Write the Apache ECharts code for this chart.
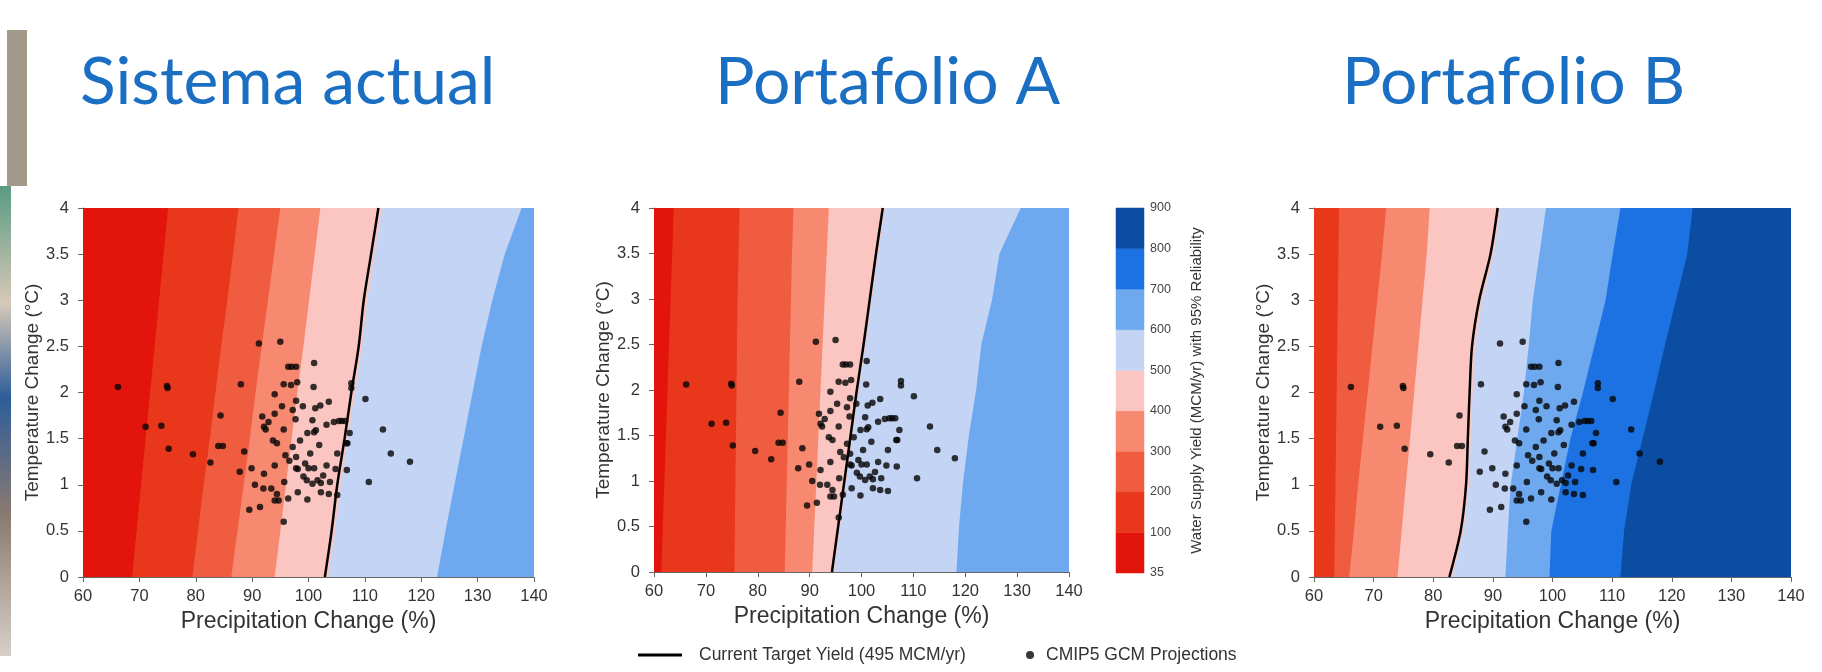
<!DOCTYPE html>
<html>
<head>
<meta charset="utf-8">
<script src="https://cdn.jsdelivr.net/npm/echarts@6/dist/echarts.min.js"></script>
<style>
  html, body { margin: 0; padding: 0; background: #ffffff; }
  #chart { width: 1822px; height: 672px; }
</style>
</head>
<body>
<div id="chart"></div>
<script>
// ---- Data -------------------------------------------------------------
const panelTitles = ['Sistema actual', 'Portafolio A', 'Portafolio B'];
const precipTicks = [60, 70, 80, 90, 100, 110, 120, 130, 140];
const tempTicks = [0, 0.5, 1, 1.5, 2, 2.5, 3, 3.5, 4];

// Yield bins of the colour scale (MCM/yr)
const yieldLevels = [35, 100, 200, 300, 400, 500, 600, 700, 800, 900];
const bandColors = ['#e3140b', '#e9371c', '#f05c40', '#f6896f', '#fbc6c1',
                    '#c4d4f5', '#6ea8ee', '#1c72e3', '#0a4da3'];

// Temperatures at which each contour's precipitation is listed
const tempSteps = [0, 0.5, 1, 1.5, 2, 2.5, 3, 3.5, 4];

// Sistema actual: contour lines [yield level, precipitation % at each tempStep]
const actualBaseBand = 0;
const actualContours = [
  [100, [68.7, 69.5, 70.3, 71.1, 71.9, 72.7, 73.5, 74.3, 75.1]],
  [200, [79.4, 80.4, 81.4, 82.5, 83.5, 84.5, 85.6, 86.6, 87.6]],
  [300, [86.3, 87.4, 88.5, 89.6, 90.6, 91.7, 92.8, 93.9, 95.0]],
  [400, [94.0, 95.0, 96.0, 97.0, 98.0, 99.1, 100.1, 101.1, 102.1]],
  [500, [103.5, 104.7, 105.7, 107.0, 108.2, 109.5, 110.4, 111.7, 113.0]],
  [600, [122.8, 124.3, 125.9, 127.5, 129.1, 130.7, 132.6, 134.8, 137.8]]
];
const actualTarget = [102.9, 104.1, 105.1, 106.4, 107.6, 108.9, 109.8, 111.1, 112.4];

// Portafolio A
const portABaseBand = 0;
const portAContours = [
  [100, [61.4, 61.7, 62.0, 62.3, 62.6, 62.9, 63.2, 63.5, 63.8]],
  [200, [75.5, 75.6, 75.7, 75.8, 75.9, 76.0, 76.1, 76.3, 76.5]],
  [300, [85.2, 85.4, 85.6, 85.8, 86.0, 86.2, 86.4, 86.6, 86.9]],
  [400, [90.5, 90.9, 91.3, 91.7, 92.1, 92.5, 92.9, 93.3, 93.7]],
  [500, [94.7, 95.9, 97.1, 98.3, 99.5, 100.8, 102.0, 103.2, 104.5]],
  [600, [118.3, 118.8, 119.6, 120.7, 122.1, 123.1, 125.2, 126.6, 130.7]]
];
const portATarget = [94.3, 95.5, 96.7, 97.9, 99.1, 100.4, 101.6, 102.8, 104.1];

// Portafolio B
const portBBaseBand = 1;
const portBContours = [
  [200, [63.4, 63.5, 63.6, 63.7, 63.8, 63.9, 64.0, 64.1, 64.2]],
  [300, [65.9, 66.7, 67.4, 68.2, 69.0, 69.8, 70.6, 71.4, 72.1]],
  [400, [74.0, 74.7, 75.4, 76.1, 76.8, 77.5, 78.2, 78.9, 79.4]],
  [500, [83.2, 85.1, 86.0, 86.3, 86.6, 87.0, 88.2, 90.1, 91.3]],
  [600, [92.1, 92.5, 93.0, 94.1, 95.2, 96.0, 96.7, 97.8, 98.9]],
  [700, [99.5, 99.8, 101.4, 103.0, 105.1, 107.0, 108.9, 110.1, 111.4]],
  [800, [111.4, 112.0, 113.2, 115.1, 117.0, 118.8, 120.7, 122.6, 123.5]]
];
const portBTarget = [82.7, 84.6, 85.5, 85.8, 86.1, 86.5, 87.7, 89.6, 90.8];

// CMIP5 GCM projections: precipitation change (%) and temperature change (°C)
const gcmPrecip = [66.2, 74.9, 88.0, 71.1, 73.9, 84.4, 75.2, 79.5, 82.6, 84.0, 88.6, 87.8,
  91.2, 95.0, 96.4, 101.0, 95.6, 98.0, 100.9, 94.0, 97.8, 99.0, 95.3, 101.2, 102.1, 103.6,
  91.8, 92.9, 92.1, 94.0, 95.6, 97.2, 97.7, 99.8, 101.3, 103.2, 104.5, 105.4, 106.5, 107.3,
  106.7, 110.1, 113.2, 114.6, 118.0, 110.7, 106.8, 107.6, 107.6, 93.7, 97.2, 98.5, 95.9,
  96.6, 97.8, 100.3, 101.9, 103.2, 105.1, 104.8, 89.9, 92.1, 94.0, 90.5, 92.0, 93.4, 94.4,
  94.0, 94.7, 96.4, 98.1, 99.8, 95.7, 97.8, 99.1, 99.7, 100.7, 101.6, 102.2, 102.2, 103.8,
  103.6, 105.1, 89.5, 91.4, 95.6, 100.0, 101.0, 99.4, 102.6, 101.0, 100.7, 97.0, 97.8, 96.9,
  84.8, 75.0, 106.9, 105.9, 94.4, 92.4, 98.1];
const gcmTemp = [2.06, 2.07, 2.09, 1.63, 1.64, 1.75, 1.39, 1.33, 1.24, 1.42, 1.36, 1.14,
  2.53, 2.55, 2.28, 2.32, 2.09, 2.11, 2.06, 1.98, 1.91, 1.85, 1.85, 1.83, 1.86, 1.90,
  1.74, 1.68, 1.63, 1.77, 1.60, 1.81, 1.71, 1.56, 1.59, 1.65, 1.68, 1.69, 1.69, 1.56,
  1.45, 1.93, 1.60, 1.34, 1.25, 1.03, 1.16, 2.05, 2.10, 1.48, 1.41, 1.48, 1.32,
  1.26, 1.30, 1.34, 1.43, 1.21, 1.34, 1.17, 1.18, 1.12, 1.21, 1.00, 0.96, 0.96, 0.90,
  0.83, 0.83, 0.85, 0.92, 0.84, 1.03, 1.18, 1.09, 1.05, 1.01, 1.05, 1.02, 0.92, 1.03,
  0.90, 0.89, 0.73, 0.76, 0.60, 1.18, 1.18, 1.23, 1.10, 1.57, 1.70, 2.28, 2.28, 2.08,
  1.42, 2.05, 1.45, 1.69, 1.45, 1.60, 1.17];

// ---- Layout -----------------------------------------------------------
const FONT = '"Liberation Sans", Arial, sans-serif';
const precipRange = [60, 140];
const tempRange = [0, 4];
const panels = [
  { title: panelTitles[0], titleX: 80, grid: { left: 83, top: 208, width: 451, height: 369 },
    base: actualBaseBand, contours: actualContours, target: actualTarget },
  { title: panelTitles[1], titleX: 715, grid: { left: 654, top: 208, width: 415, height: 364 },
    base: portABaseBand, contours: portAContours, target: portATarget },
  { title: panelTitles[2], titleX: 1342, grid: { left: 1314, top: 208, width: 477, height: 369 },
    base: portBBaseBand, contours: portBContours, target: portBTarget }
];

const gcmPoints = gcmPrecip.map((p, i) => [p, gcmTemp[i]]);

const grids = [];
const xAxes = [];
const yAxes = [];
const series = [];

panels.forEach((pn, idx) => {
  grids.push(Object.assign({ containLabel: false }, pn.grid));
  xAxes.push({
    gridIndex: idx, type: 'value', min: precipRange[0], max: precipRange[1], interval: 10,
    name: 'Precipitation Change (%)', nameLocation: 'middle', nameGap: 33,
    nameTextStyle: { fontFamily: FONT, fontSize: 23, color: '#333' },
    axisLine: { show: true, lineStyle: { color: '#666', width: 1 } },
    axisTick: { show: true, length: 5, lineStyle: { color: '#666' } },
    axisLabel: { fontFamily: FONT, fontSize: 16.5, color: '#333', margin: 11 },
    splitLine: { show: false }
  });
  yAxes.push({
    gridIndex: idx, type: 'value', min: tempRange[0], max: tempRange[1], interval: 0.5,
    name: 'Temperature Change (°C)', nameLocation: 'middle', nameGap: 41, nameRotate: 90,
    nameTextStyle: { fontFamily: FONT, fontSize: 19, color: '#333' },
    axisLine: { show: true, lineStyle: { color: '#666', width: 1 } },
    axisTick: { show: true, length: 5, lineStyle: { color: '#666' } },
    axisLabel: { fontFamily: FONT, fontSize: 16.5, color: '#333', margin: 14 },
    splitLine: { show: false }
  });

  // Filled contour bands: base rectangle, then each region beyond a contour line
  const bandItems = [[pn.base]].concat(pn.contours.map(c => [yieldLevels.indexOf(c[0])]));
  series.push({
    type: 'custom', xAxisIndex: idx, yAxisIndex: idx, clip: true, silent: true, z: 1,
    data: bandItems,
    renderItem: (params, api) => {
      const i = params.dataIndex;
      const band = bandItems[i][0];
      let pts;
      if (i === 0) {
        pts = [[precipRange[0], tempRange[0]], [precipRange[0], tempRange[1]],
               [precipRange[1], tempRange[1]], [precipRange[1], tempRange[0]]];
      } else {
        const b = pn.contours[i - 1][1];
        pts = tempSteps.map((t, k) => [b[k], t])
          .concat([[precipRange[1] + 5, tempRange[1]], [precipRange[1] + 5, tempRange[0]]]);
      }
      return {
        type: 'polygon',
        shape: { points: pts.map(p => api.coord(p)) },
        style: { fill: bandColors[band], stroke: null }
      };
    }
  });

  series.push({
    type: 'line', name: 'Current Target Yield (495 MCM/yr)', xAxisIndex: idx, yAxisIndex: idx,
    data: pn.target.map((p, k) => [p, tempSteps[k]]), showSymbol: false, smooth: 0.3,
    color: '#000', lineStyle: { color: '#000', width: 2.5 }, z: 3, silent: true
  });

  series.push({
    type: 'scatter', name: 'CMIP5 GCM Projections', xAxisIndex: idx, yAxisIndex: idx,
    data: gcmPoints, symbol: 'circle', symbolSize: 6.5, color: '#000',
    itemStyle: { color: '#050505' }, z: 4, silent: true
  });
});

// Colour bar: nine equal-height bins labelled by yield level
const cbIdx = 3;
grids.push({ left: 1116, top: 208, width: 28, height: 365 });
xAxes.push({ gridIndex: cbIdx, type: 'value', min: 0, max: 1, show: false });
yAxes.push({
  gridIndex: cbIdx, type: 'value', min: 0, max: bandColors.length, interval: 1, position: 'right',
  axisLine: { show: false }, axisTick: { show: false }, splitLine: { show: false },
  axisLabel: { fontFamily: FONT, fontSize: 12.5, color: '#444', margin: 6,
               formatter: v => String(yieldLevels[v]) },
  name: 'Water Supply Yield (MCM/yr) with 95% Reliability', nameLocation: 'middle',
  nameRotate: 90, nameGap: 45,
  nameTextStyle: { fontFamily: FONT, fontSize: 15, color: '#333' }
});
series.push({
  type: 'custom', xAxisIndex: cbIdx, yAxisIndex: cbIdx, silent: true,
  data: bandColors.map((c, i) => [i]),
  renderItem: (params, api) => {
    const i = params.dataIndex;
    const p0 = api.coord([0, i]);
    const p1 = api.coord([1, i + 1]);
    return {
      type: 'rect',
      shape: { x: p0[0], y: p1[1], width: p1[0] - p0[0], height: p0[1] - p1[1] },
      style: { fill: bandColors[i], stroke: bandColors[i], lineWidth: 0.5 }
    };
  }
});

const option = {
  backgroundColor: '#ffffff',
  animation: false,
  grid: grids,
  xAxis: xAxes,
  yAxis: yAxes,
  series: series,
  legend: [
    {
      data: [{ name: 'Current Target Yield (495 MCM/yr)', icon: 'rect' }],
      left: 633, top: 641, itemWidth: 44, itemHeight: 3, selectedMode: false,
      textStyle: { fontFamily: FONT, fontSize: 17.5, color: '#333', padding: [0, 0, 0, 12] }
    },
    {
      data: [{ name: 'CMIP5 GCM Projections', icon: 'circle' }],
      left: 1021, top: 641, itemWidth: 8, itemHeight: 8, selectedMode: false,
      itemStyle: { color: '#050505' },
      textStyle: { fontFamily: FONT, fontSize: 17.5, color: '#333', padding: [0, 0, 0, 7] }
    }
  ],
  graphic: [
    // slide edge on the far left
    { type: 'rect', left: 7, top: 30, shape: { width: 20, height: 156 },
      style: { fill: '#a39a8c' }, silent: true },
    { type: 'rect', left: 0, top: 186, shape: { width: 11, height: 470 },
      style: { fill: new echarts.graphic.LinearGradient(0, 0, 0, 1, [
        { offset: 0, color: '#5a9a82' }, { offset: 0.25, color: '#d6c9b8' },
        { offset: 0.45, color: '#2e5d9a' }, { offset: 0.7, color: '#8a7a70' },
        { offset: 1, color: '#d8d0c8' }]) }, silent: true }
  ].concat(panels.map(pn => ({
    type: 'text', left: pn.titleX, top: 50, silent: true,
    style: { text: pn.title, fontFamily: 'Lato, "Open Sans", sans-serif', fontSize: 66,
             fill: '#1a6fc3' }
  })))
};

const chart = echarts.init(document.getElementById('chart'), null, { renderer: 'canvas' });
chart.setOption(option);
</script>
</body>
</html>
